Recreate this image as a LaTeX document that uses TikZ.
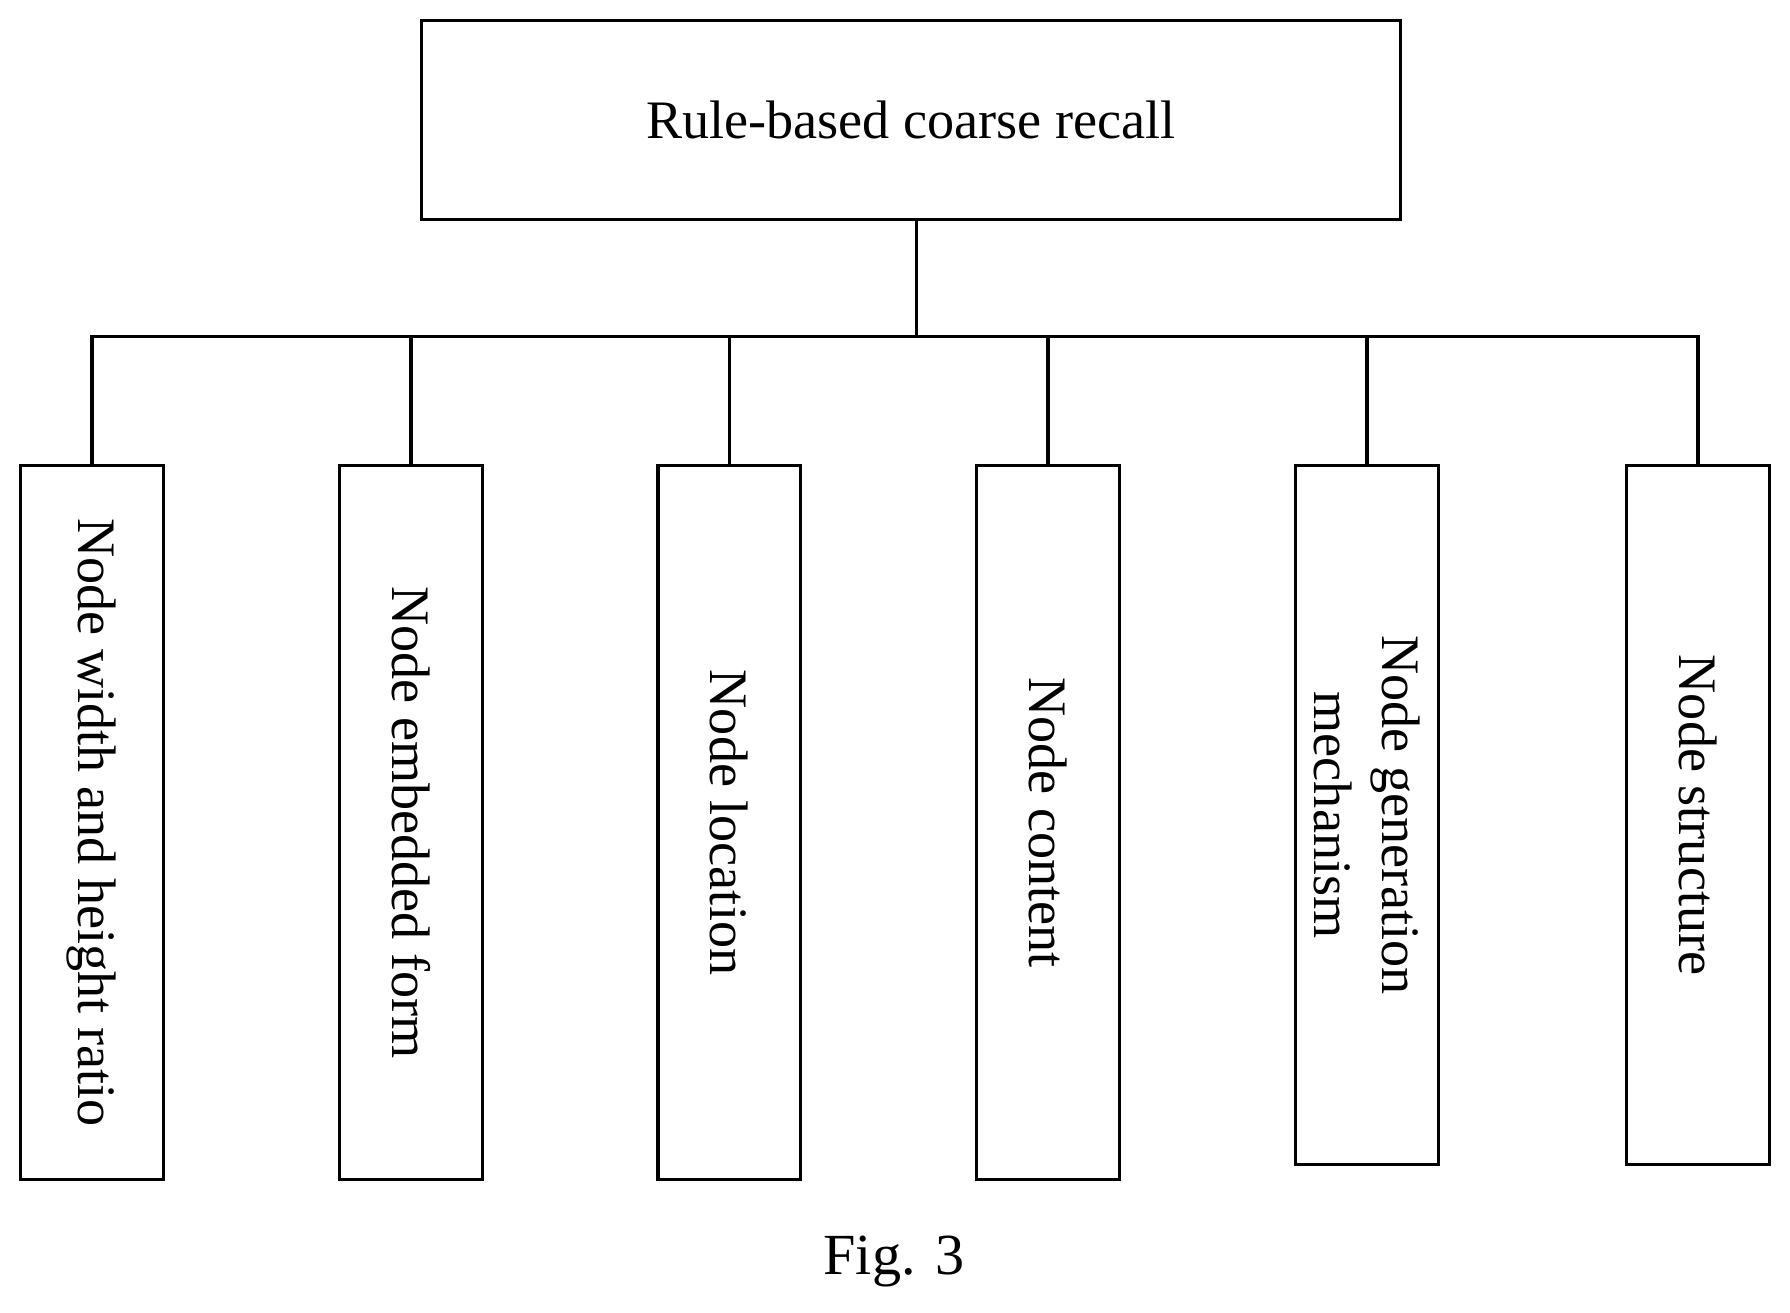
\documentclass[tikz,border=0pt]{standalone}
\usepackage{fontspec}
\setmainfont{Liberation Serif}
\usetikzlibrary{positioning}

\begin{document}
\begin{tikzpicture}[
  x=0.01cm, y=-0.01cm,
  topbox/.style={rectangle, draw, thick, minimum width=8.57cm, minimum height=1.74cm, inner sep=0pt, font=\fontsize{13.5}{16}\selectfont},
  leaf/.style={rectangle, draw, thick, rotate=-90, minimum width=6.25cm, minimum height=1.25cm, inner sep=0pt, align=center, font=\fontsize{13.5}{17}\selectfont},
  leafshort/.style={leaf, minimum width=6.12cm},
  link/.style={thick}
]
\useasboundingbox (0,0) rectangle (1568,1150);
\node[topbox] (root) at (798,105) {Rule-based coarse recall};
\node[leaf] (w) at (80.5,720.5) {Node width and height ratio};
\node[leaf] (e) at (360,720.5) {Node embedded form};
\node[leaf] (l) at (639,720.5) {Node location};
\node[leaf] (c) at (918,720.5) {Node content};
\node[leafshort] (g) at (1197.5,714) {Node generation\\mechanism};
\node[leafshort] (s) at (1487.5,714) {Node structure};
\coordinate (bus) at (803,295);
\draw[link] (root.south -| bus) -- (bus);
\draw[link] (w.west) -- (w.west |- bus) -- (s.west |- bus) -- (s.west);
\foreach \n in {e,l,c,g}
  \draw[link] (\n.west) -- (\n.west |- bus);
\node[font=\fontsize{14.5}{17}\selectfont] (cap) at (783,1105) {Fig. 3};
\end{tikzpicture}
\end{document}
